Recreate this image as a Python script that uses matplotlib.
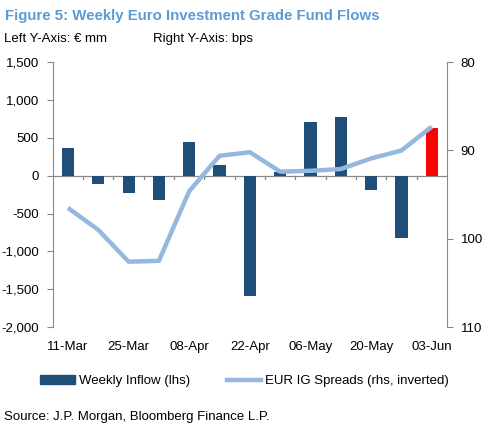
import numpy as np
import matplotlib.pyplot as plt
from matplotlib.patches import Patch
from matplotlib.lines import Line2D

plt.rcParams['font.family'] = ['Liberation Sans', 'DejaVu Sans']

weeks = ['11-Mar', '18-Mar', '25-Mar', '01-Apr', '08-Apr', '15-Apr', '22-Apr',
         '29-Apr', '06-May', '13-May', '20-May', '27-May', '03-Jun']
inflow = [370, -110, -225, -325, 440, 135, -1595, 45, 710, 770, -195, -830, 630]
spreads = [96.5, 99.0, 102.6, 102.5, 94.6, 90.6, 90.2, 92.4, 92.3, 92.1, 90.9, 90.0, 87.3]

bar_blue = '#1F4E79'
line_blue = '#95B8E0'
grey = '#888888'

fig = plt.figure(figsize=(4.89, 4.32), dpi=100)
ax = fig.add_axes([0.108, 0.243, 0.806, 0.613])
x = np.arange(len(weeks))
colors = [bar_blue] * (len(weeks) - 1) + ['#FF0000']
ax.bar(x, inflow, width=0.4, color=colors, zorder=2)

ax.set_xlim(-0.5, len(weeks) - 0.5)
ax.set_ylim(-2000, 1500)
ax.set_yticks(np.arange(-2000, 1501, 500))
ax.set_yticklabels([f'{v:,}' for v in range(-2000, 1501, 500)])
for s in ['top', 'bottom', 'right']:
    ax.spines[s].set_visible(False)
ax.spines['left'].set_color(grey)
ax.tick_params(axis='y', colors='black', labelsize=9.5, length=4, color=grey, pad=6)

# zero line with category ticks
ax.axhline(0, color=grey, lw=0.9, zorder=1)
for b in np.arange(0.5, len(weeks) - 0.5, 1):
    ax.plot([b, b], [0, -45], color=grey, lw=0.9, zorder=1)

ax.set_xticks(x[::2])
ax.set_xticklabels(weeks[::2])
ax.tick_params(axis='x', length=0, labelsize=9.5, pad=10)

ax2 = ax.twinx()
ax2.plot(x, spreads, color=line_blue, lw=3.2, solid_capstyle='butt', zorder=3)
ax2.set_ylim(110, 80)
ax2.set_yticks([80, 90, 100, 110])
for s in ['top', 'bottom', 'left']:
    ax2.spines[s].set_visible(False)
ax2.spines['right'].set_color(grey)
ax2.tick_params(axis='y', labelsize=9.5, length=4, color=grey, pad=6)

fig.text(0.01, 0.962, 'Figure 5: Weekly Euro Investment Grade Fund Flows',
         color='#5B9BD5', fontsize=10.8, fontweight='bold', va='center')
fig.text(0.008, 0.91, 'Left Y-Axis: € mm', fontsize=9.5, va='center')
fig.text(0.313, 0.91, 'Right Y-Axis: bps', fontsize=9.5, va='center')
fig.text(0.008, 0.035, 'Source: J.P. Morgan, Bloomberg Finance L.P.', fontsize=9.5, va='center')

handles = [Patch(color=bar_blue, label='Weekly Inflow (lhs)'),
           Line2D([], [], color=line_blue, lw=3.2, label='EUR IG Spreads (rhs, inverted)')]
fig.legend(handles=handles, loc='center', bbox_to_anchor=(0.50, 0.118), ncol=2,
           frameon=False, fontsize=9.5, handlelength=2.6, handleheight=0.6,
           columnspacing=2.8, handletextpad=0.3)

fig.savefig('out.png', dpi=100)
